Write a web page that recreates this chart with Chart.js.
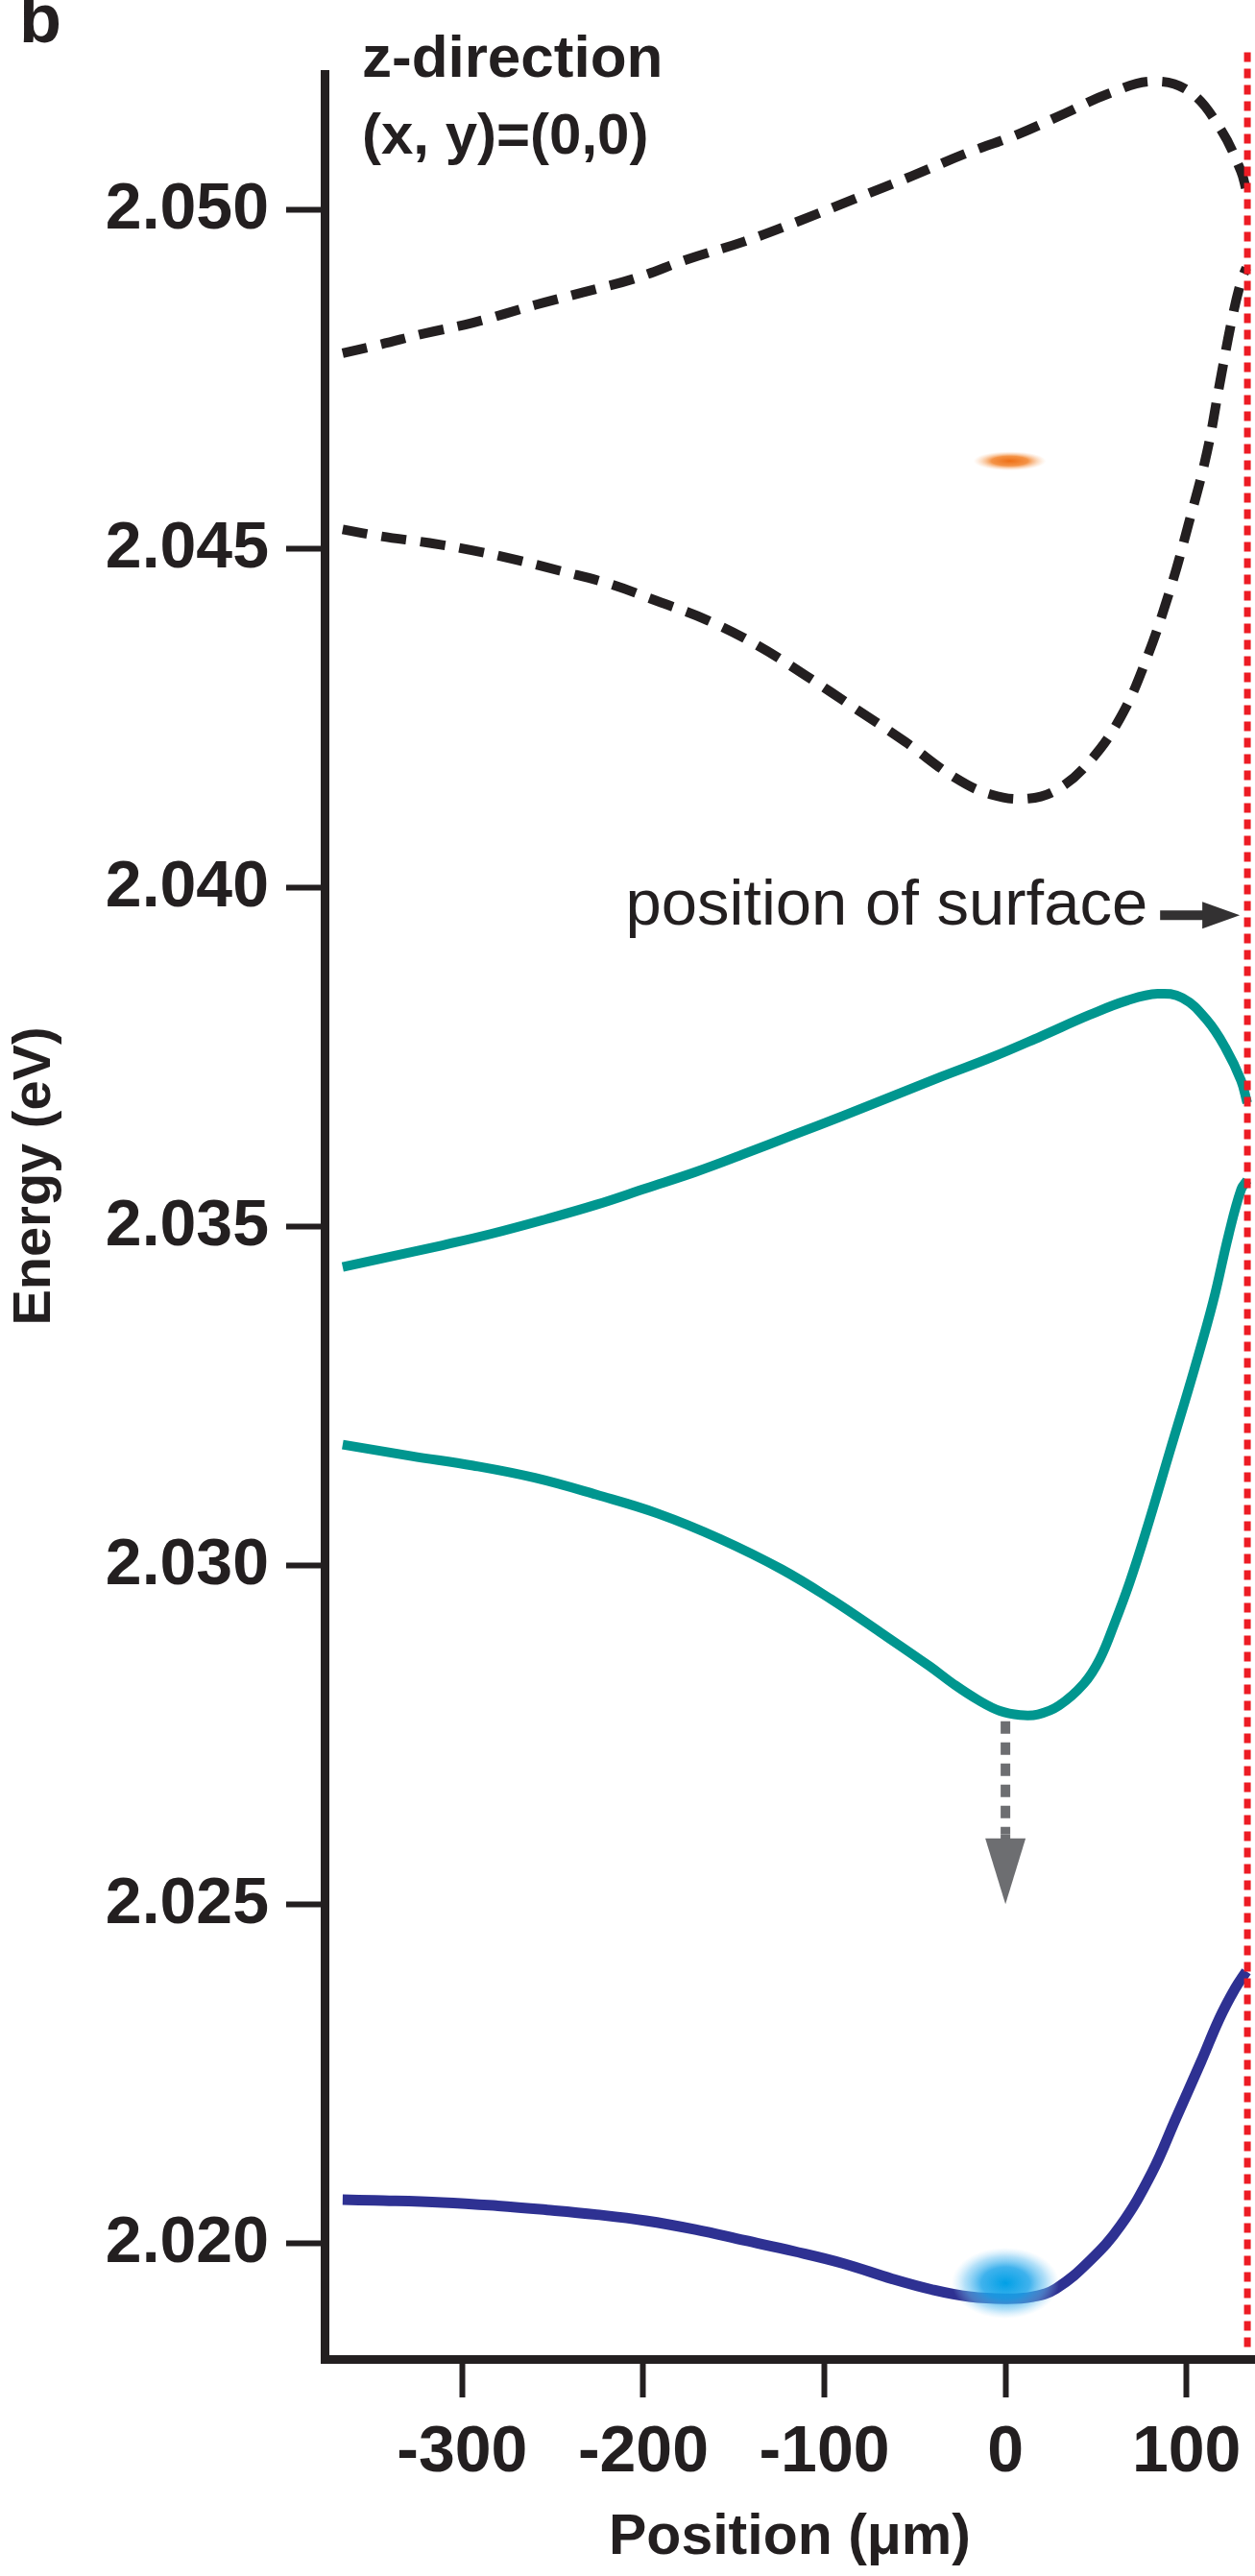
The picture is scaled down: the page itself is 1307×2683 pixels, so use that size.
<!DOCTYPE html>
<html>
<head>
<meta charset="utf-8">
<script src="https://cdn.jsdelivr.net/npm/chart.js@4.4.1/dist/chart.umd.min.js"></script>
<style>
html,body{margin:0;padding:0;background:#ffffff;}
#wrap{position:relative;width:1307px;height:2683px;}
</style>
</head>
<body>
<div id="wrap"><canvas id="c"></canvas></div>
<script>
// ---------- data ----------
const xTicks = [-300, -200, -100, 0, 100];
const yTicks = [2.020, 2.025, 2.030, 2.035, 2.040, 2.045, 2.050];

const upperDashX = [-366,-345,-321,-294,-260,-233,-205,-175,-144,-113,-83,-52,-21.5,6,33,57,81,101,118,130,133];
const upperDashE = [2.04789,2.04802,2.04818,2.04834,2.04860,2.04879,2.04899,2.04928,2.04954,2.04985,2.05017,2.05050,2.05084,2.05111,2.05143,2.05172,2.05190,2.05176,2.05123,2.05058,2.05029];

const lowerDashX = [-366,-345,-318,-294,-270,-246,-219,-192,-164.5,-137,-110,-83,-55.5,-28,-8,12.6,29.6,46.6,63.6,77.3,90.9,101.1,111.3,118.1,125,130.1,133];
const lowerDashE = [2.04529,2.04519,2.04509,2.04498,2.04484,2.04468,2.04449,2.04423,2.04395,2.04358,2.04313,2.04265,2.04216,2.04163,2.04138,2.04132,2.04147,2.04187,2.04252,2.04334,2.04440,2.04537,2.04643,2.04741,2.04838,2.04895,2.04915];

const upperTealX = [-366,-341.6,-310.9,-283.8,-253.1,-225.8,-198.6,-171.3,-144.1,-116.9,-89.6,-62.3,-35.1,-7.8,19.4,46.6,67.1,84.1,97.7,111.3,121.5,130.1,133.5];
const upperTealE = [2.03441,2.03455,2.03473,2.03490,2.03512,2.03533,2.03557,2.03581,2.03608,2.03636,2.03664,2.03693,2.03722,2.03750,2.03781,2.03813,2.03834,2.03844,2.03838,2.03805,2.03764,2.03716,2.03683];

const lowerTealX = [-366,-327.9,-293.9,-259.9,-225.8,-191.7,-157.7,-123.6,-96.4,-69.1,-41.9,-28.3,-15,-3,8,18,29.6,43.2,52,60.2,68.5,77.3,90.9,104.5,114.7,123.2,130.1,133.5];
const lowerTealE = [2.03179,2.03162,2.03148,2.03130,2.03105,2.03077,2.03040,2.02995,2.02951,2.02902,2.02852,2.02825,2.02802,2.02786,2.02780,2.02781,2.02794,2.02826,2.02862,2.02915,2.02975,2.03048,2.03170,2.03292,2.03390,2.03488,2.03555,2.03569];

const blueX = [-366,-348.4,-310.9,-280.3,-253.1,-225.8,-198.6,-171.3,-144.1,-116.9,-89.6,-62.3,-40,-20,0,15,28,46.6,63.6,80.7,94.3,107.9,118.1,126.7,133];
const blueE = [2.02065,2.02064,2.02061,2.02056,2.02050,2.02043,2.02034,2.02021,2.02005,2.01989,2.01971,2.01948,2.01932,2.01922,2.01919,2.01922,2.01934,2.01975,2.02027,2.02104,2.02186,2.02268,2.02332,2.02376,2.02402];

const surfaceLineX = [133.6, 133.6];
const surfaceLineE = [2.05233, 2.01844];

const grayArrowX = [0, 0];
const grayArrowE = [2.02771, 2.02604];      // dashed shaft
const grayHeadE = [2.02598, 2.02501];       // head base, tip

const orangeSpot = [2.4, 2.04630];
const blueSpot = [0, 2.01942];

const surfaceLabel = 'position of surface';
const surfaceTextAt = [78.5, 2.03946];
const surfaceArrowX = [85.4, 108.7, 129.4];
const surfaceArrowE = 2.03960;

const xRange = [-376, 137.8];
const yRange = [2.01830, 2.05201];

// ---------- styling ----------
const FONT = "'Liberation Sans', Arial, Helvetica, sans-serif";
const INK = '#231f20';

function pts(xs, ys) { return xs.map((x, i) => ({ x: x, y: ys[i] })); }

const annot = {
  id: 'annot',
  afterDatasetsDraw(chart) {
    const ctx = chart.ctx, sx = chart.scales.x, sy = chart.scales.y;
    const px = v => sx.getPixelForValue(v), py = v => sy.getPixelForValue(v);
    function blob(cx, cy, rx, ry, stops) {
      ctx.save();
      ctx.translate(cx, cy);
      ctx.scale(1, ry / rx);
      const g = ctx.createRadialGradient(0, 0, 0, 0, 0, rx);
      stops.forEach(s => g.addColorStop(s[0], s[1]));
      ctx.fillStyle = g;
      ctx.beginPath(); ctx.arc(0, 0, rx, 0, Math.PI * 2); ctx.fill();
      ctx.restore();
    }
    blob(px(orangeSpot[0]), py(orangeSpot[1]), 38, 10,
      [[0, 'rgba(238,110,20,1)'], [0.5, 'rgba(243,135,50,0.9)'], [1, 'rgba(250,200,160,0)']]);
    blob(px(blueSpot[0]), py(blueSpot[1]), 56, 37,
      [[0, 'rgba(0,160,230,1)'], [0.45, 'rgba(30,165,234,0.85)'], [0.75, 'rgba(100,192,242,0.5)'], [1, 'rgba(160,215,248,0)']]);

    // gray arrow head
    ctx.save();
    const ax = px(grayArrowX[0]), yb = py(grayHeadE[0]), yt = py(grayHeadE[1]);
    ctx.fillStyle = '#6d6e71';
    ctx.fillRect(ax - 5, py(grayArrowE[1]), 10, yb - py(grayArrowE[1]) + 1);
    ctx.beginPath();
    ctx.moveTo(ax - 21, yb); ctx.lineTo(ax + 21, yb); ctx.lineTo(ax, yt); ctx.closePath(); ctx.fill();

    // surface arrow
    const ay = py(surfaceArrowE);
    ctx.strokeStyle = '#333132'; ctx.lineWidth = 10; ctx.lineCap = 'butt';
    ctx.beginPath(); ctx.moveTo(px(surfaceArrowX[0]), ay); ctx.lineTo(px(surfaceArrowX[1]) + 2, ay); ctx.stroke();
    ctx.fillStyle = '#333132';
    ctx.beginPath();
    ctx.moveTo(px(surfaceArrowX[1]), ay - 14); ctx.lineTo(px(surfaceArrowX[2]), ay); ctx.lineTo(px(surfaceArrowX[1]), ay + 14);
    ctx.closePath(); ctx.fill();

    ctx.fillStyle = INK;
    ctx.font = '67px ' + FONT;
    ctx.textAlign = 'right'; ctx.textBaseline = 'alphabetic';
    ctx.fillText(surfaceLabel, px(surfaceTextAt[0]), py(surfaceTextAt[1]));
    ctx.restore();
  },
  afterDraw(chart) {
    const ctx = chart.ctx, left = chart.chartArea.left;
    ctx.save();
    ctx.fillStyle = INK; ctx.textAlign = 'left'; ctx.textBaseline = 'alphabetic';
    ctx.font = 'bold 62px ' + FONT;
    ctx.fillText('z-direction', left + 39, 80);
    ctx.font = 'bold 60px ' + FONT;
    ctx.fillText('(x, y)=(0,0)', left + 39, 160);
    ctx.font = 'bold 72px ' + FONT;
    ctx.fillText('b', 20, 44);
    // y axis title
    ctx.translate(52, 1225);
    ctx.rotate(-Math.PI / 2);
    ctx.textAlign = 'center';
    ctx.font = 'bold 56px ' + FONT;
    ctx.fillText('Energy (eV)', 0, 0);
    ctx.restore();
  }
};

new Chart(document.getElementById('c'), {
  type: 'line',
  data: {
    datasets: [
      { data: pts(surfaceLineX, surfaceLineE), borderColor: '#ed1c24', borderWidth: 7, borderDash: [10, 7], pointRadius: 0, clip: false, tension: 0 },
      { data: pts(grayArrowX, grayArrowE), borderColor: '#6d6e71', borderWidth: 10, borderDash: [13, 9], pointRadius: 0, tension: 0 },
      { data: pts(upperDashX, upperDashE), borderColor: INK, borderWidth: 10, borderDash: [26, 15], pointRadius: 0, tension: 0.4 },
      { data: pts(lowerDashX, lowerDashE), borderColor: INK, borderWidth: 10, borderDash: [26, 15], pointRadius: 0, tension: 0.4 },
      { data: pts(upperTealX, upperTealE), borderColor: '#00968f', borderWidth: 10, pointRadius: 0, tension: 0.4 },
      { data: pts(lowerTealX, lowerTealE), borderColor: '#00968f', borderWidth: 10, pointRadius: 0, tension: 0.4 },
      { data: pts(blueX, blueE), borderColor: '#2e3192', borderWidth: 11, pointRadius: 0, tension: 0.4 }
    ]
  },
  options: {
    responsive: true,
    maintainAspectRatio: false,
    devicePixelRatio: 1,
    animation: false,
    events: [],
    layout: { padding: { top: 77, left: 0, right: 0, bottom: 0 } },
    plugins: { legend: { display: false }, tooltip: { enabled: false }, title: { display: false } },
    scales: {
      x: {
        type: 'linear', position: 'bottom', min: xRange[0], max: xRange[1],
        afterBuildTicks: s => { s.ticks = xTicks.map(v => ({ value: v })); },
        afterFit: s => { s.height = 226; s.paddingLeft = 0; s.paddingRight = 0; },
        grid: { drawOnChartArea: false, drawTicks: true, tickLength: 40, tickWidth: 6, tickColor: INK, color: INK },
        border: { display: true, color: INK, width: 9 },
        ticks: { autoSkip: false, maxRotation: 0, minRotation: 0, padding: 24, color: INK,
          font: { family: FONT, size: 68, weight: 'bold', lineHeight: 1 }, callback: v => String(v) },
        title: { display: true, text: 'Position (μm)', color: INK,
          font: { family: FONT, size: 59, weight: 'bold', lineHeight: 1 }, padding: { top: 0, bottom: 10 } }
      },
      y: {
        type: 'linear', position: 'left', min: yRange[0], max: yRange[1],
        afterBuildTicks: s => { s.ticks = yTicks.map(v => ({ value: v })); },
        afterFit: s => { s.width = 338; s.paddingTop = 0; s.paddingBottom = 0; },
        grid: { drawOnChartArea: false, drawTicks: true, tickLength: 40, tickWidth: 6, tickColor: INK, color: INK },
        border: { display: true, color: INK, width: 9 },
        ticks: { autoSkip: false, padding: 18, color: INK,
          font: { family: FONT, size: 68, weight: 'bold', lineHeight: 1 }, callback: v => Number(v).toFixed(3) },
        title: { display: false }
      }
    }
  },
  plugins: [annot]
});
</script>
</body>
</html>
